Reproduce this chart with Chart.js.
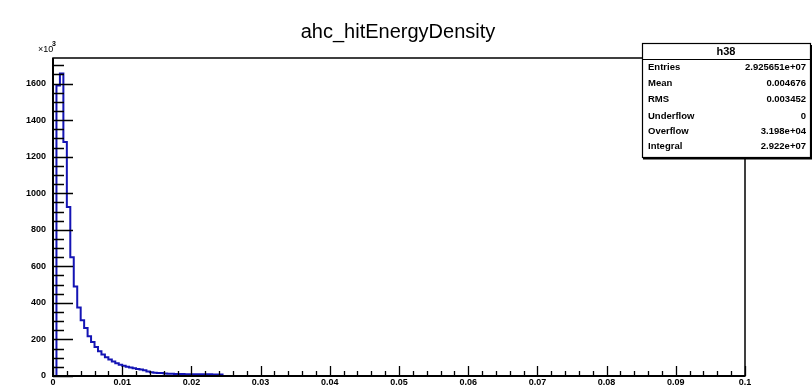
<!DOCTYPE html>
<html><head><meta charset="utf-8">
<script src="https://cdn.jsdelivr.net/npm/chart.js@4/dist/chart.umd.min.js"></script>
<style>html,body{margin:0;padding:0;background:#fff}#wrap{width:812px;height:390px;position:relative}</style>
</head><body><div id="wrap"><canvas id="c" width="812" height="390"></canvas></div>
<script>
const chartTitle = 'ahc_hitEnergyDensity';
const binWidth = 0.0005;
const binStart = 0;
// bin contents, in units of 10^3
const counts = [0, 1590, 1655, 1280, 925, 650, 490, 375, 305, 262, 218, 186, 158, 135, 117, 103, 90, 80, 70, 62,
  56, 51, 46, 42, 38, 35, 32, 24, 20, 18, 17, 16, 13, 12, 12, 11, 11, 11, 10, 10,
  10, 10, 9, 9, 9, 9, 8, 8, 8, 0];
const xTicks = [0, 0.01, 0.02, 0.03, 0.04, 0.05, 0.06, 0.07, 0.08, 0.09, 0.1];
const xTickLabels = ['0', '0.01', '0.02', '0.03', '0.04', '0.05', '0.06', '0.07', '0.08', '0.09', '0.1'];
const yTicks = [0, 200, 400, 600, 800, 1000, 1200, 1400, 1600];
const yTickLabels = ['0', '200', '400', '600', '800', '1000', '1200', '1400', '1600'];
const yExponent = '3';
const statsName = 'h38';
const statsLabels = ['Entries', 'Mean', 'RMS', 'Underflow', 'Overflow', 'Integral'];
const statsValues = ['2.925651e+07', '0.004676', '0.003452', '0', '3.198e+04', '2.922e+07'];
const xRange = [0, 0.1];
const yRange = [0, 1740];

const FONT = '"Liberation Sans", Arial, Helvetica, sans-serif';
const points = counts.map((v, i) => ({x: binStart + i * binWidth, y: v}));
points.push({x: binStart + counts.length * binWidth, y: counts[counts.length - 1]});

const rootPlugin = {
  id: 'rootStyle',
  afterDatasetsDraw(chart) {
    const ctx = chart.ctx, a = chart.chartArea;
    const xs = chart.scales.x, ys = chart.scales.y;
    ctx.save();
    ctx.strokeStyle = '#000';
    ctx.lineWidth = 1.3;
    ctx.beginPath();
    for (let v = yRange[0]; v <= yRange[1] + 1e-9; v += 50) {
      const py = Math.round(ys.getPixelForValue(v)) + 0.5;
      const len = (v % 200 === 0) ? 20 : 11;
      ctx.moveTo(a.left, py); ctx.lineTo(a.left + len, py);
    }
    for (let k = 0; k <= 50; k++) {
      const v = xRange[0] + k * 0.002;
      const px = Math.round(xs.getPixelForValue(v)) + 0.5;
      const len = (k % 5 === 0) ? 10 : 5;
      ctx.moveTo(px, a.bottom); ctx.lineTo(px, a.bottom - len);
    }
    ctx.stroke();
    ctx.lineWidth = 1.5;
    ctx.strokeRect(a.left, a.top, a.right - a.left, a.bottom - a.top);
    ctx.lineWidth = 2;
    ctx.beginPath();
    ctx.moveTo(a.left, a.top); ctx.lineTo(a.left, a.bottom); ctx.lineTo(a.right, a.bottom);
    ctx.stroke();
    ctx.restore();
  },
  afterDraw(chart) {
    const ctx = chart.ctx;
    ctx.save();
    ctx.fillStyle = '#000';
    ctx.font = '20px ' + FONT;
    ctx.textAlign = 'center';
    ctx.textBaseline = 'alphabetic';
    ctx.fillText(chartTitle, 398, 38);
    ctx.textAlign = 'left';
    ctx.font = '9px ' + FONT;
    ctx.fillText('\u00d710', 38, 52);
    ctx.font = 'bold 7px ' + FONT;
    ctx.fillText(yExponent, 52, 46);
    const bx = 642, by = 43, bw = 168, bh = 114;
    ctx.fillStyle = '#fff';
    ctx.fillRect(bx, by, bw, bh);
    ctx.strokeStyle = '#000';
    ctx.lineWidth = 1.2;
    ctx.strokeRect(bx + 0.5, by + 0.5, bw, bh);
    ctx.lineWidth = 2;
    ctx.beginPath();
    ctx.moveTo(bx + 1, by + bh + 1.5); ctx.lineTo(bx + bw + 1.5, by + bh + 1.5); ctx.lineTo(bx + bw + 1.5, by + 2);
    ctx.stroke();
    ctx.lineWidth = 1.2;
    ctx.beginPath();
    ctx.moveTo(bx, 59.5); ctx.lineTo(bx + bw, 59.5);
    ctx.stroke();
    ctx.fillStyle = '#000';
    ctx.font = 'bold 11px ' + FONT;
    ctx.textAlign = 'center';
    ctx.textBaseline = 'middle';
    ctx.fillText(statsName, bx + bw / 2, 51.5);
    ctx.font = 'bold 9.5px ' + FONT;
    const rowY = [67, 83, 99.5, 116, 131, 146.5];
    statsLabels.forEach((l, i) => {
      ctx.textAlign = 'left';
      ctx.fillText(l, bx + 6, rowY[i]);
      ctx.textAlign = 'right';
      ctx.fillText(statsValues[i], bx + bw - 4, rowY[i]);
    });
    ctx.restore();
  }
};

new Chart(document.getElementById('c'), {
  type: 'line',
  data: {
    datasets: [{
      data: points,
      stepped: 'before',
      borderColor: '#1414b4',
      borderWidth: 2,
      pointRadius: 0,
      fill: false,
      tension: 0
    }]
  },
  options: {
    responsive: false,
    animation: false,
    events: [],
    layout: {padding: {left: 0, right: 67, top: 58, bottom: 0}},
    plugins: {legend: {display: false}, tooltip: {enabled: false}, title: {display: false}},
    scales: {
      x: {
        type: 'linear', min: xRange[0], max: xRange[1],
        afterBuildTicks: s => { s.ticks = xTicks.map(v => ({value: v})); },
        afterFit: s => { s.height = 14; },
        ticks: {
          callback: (v, i) => xTickLabels[i],
          autoSkip: false, maxRotation: 0, minRotation: 0,
          color: '#000', padding: 1,
          font: {family: FONT, size: 9, weight: 'bold'}
        },
        grid: {display: false, drawTicks: false},
        border: {display: false}
      },
      y: {
        type: 'linear', min: yRange[0], max: yRange[1],
        afterBuildTicks: s => { s.ticks = yTicks.map(v => ({value: v})); },
        afterFit: s => { s.width = 53; },
        ticks: {
          callback: (v, i) => yTickLabels[i],
          autoSkip: false,
          color: '#000', padding: 7,
          font: {family: FONT, size: 9, weight: 'bold'}
        },
        grid: {display: false, drawTicks: false},
        border: {display: false}
      }
    }
  },
  plugins: [rootPlugin]
});
</script>
</body></html>
